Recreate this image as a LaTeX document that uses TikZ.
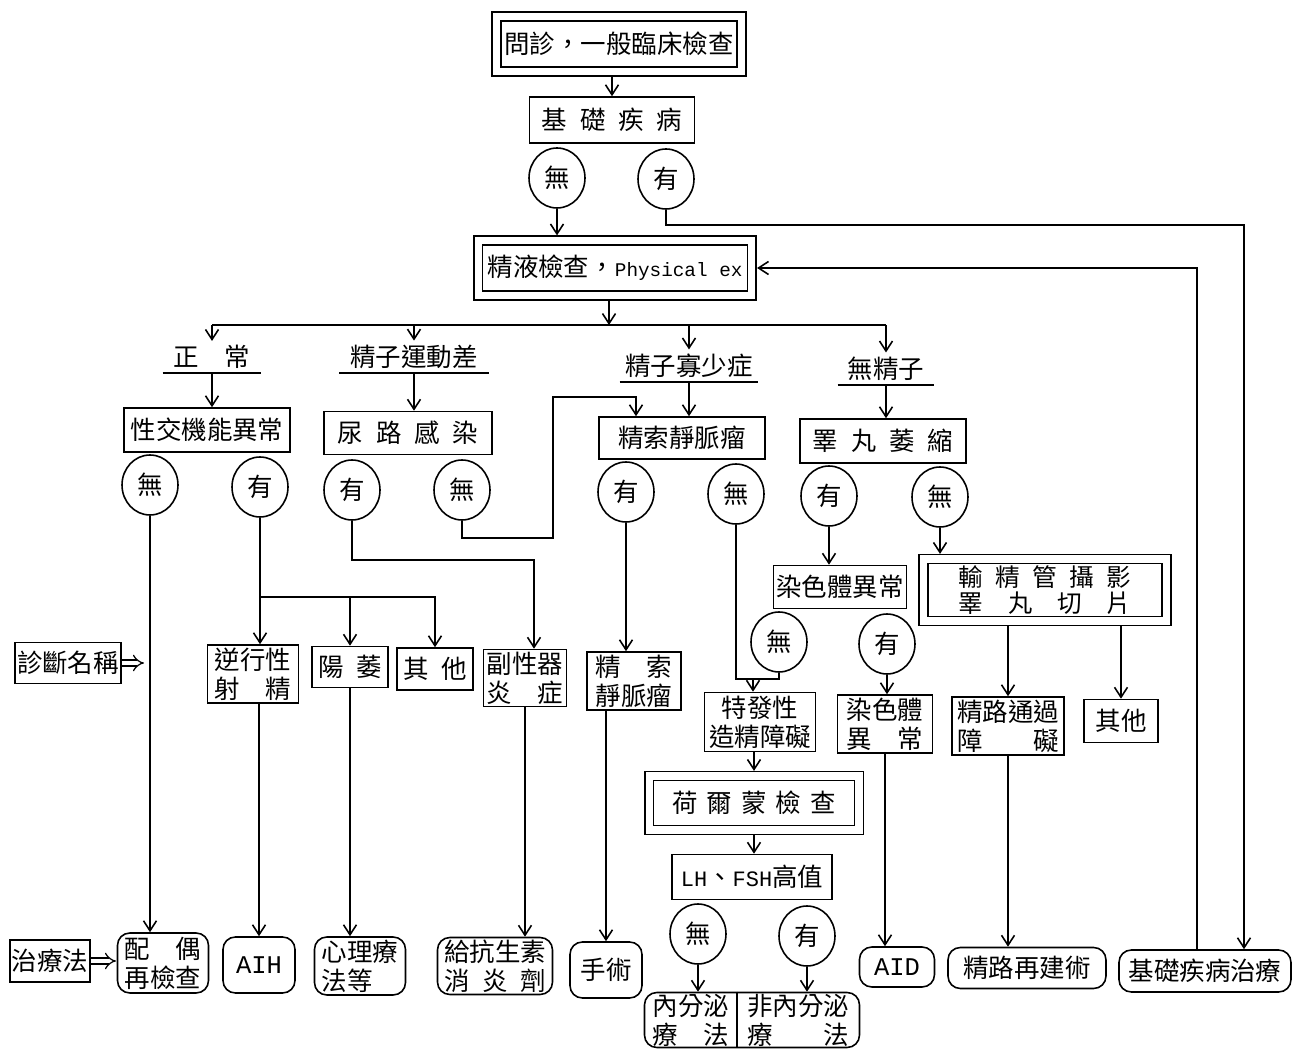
\documentclass[tikz,border=0pt]{standalone}
\usepackage{fontspec}
\setmainfont{Noto Sans CJK TC}
\newfontfamily\latn{Liberation Mono}
\usepackage{tikz}
\usetikzlibrary{arrows.meta,shapes.geometric}
\newcommand{\spreadto}[2]{\makebox[#1][s]{#2}}
\tikzset{
  box/.style={draw, line width=0.9pt, align=center, inner sep=1pt},
  dbox/.style={box, double, double distance=4pt, outer sep=2.9pt},
  rbox/.style={box, rounded corners=7pt},
  yn/.style={ellipse, draw, line width=0.9pt, minimum width=1.12cm, minimum height=1.2cm, inner sep=0pt},
  lbl/.style={anchor=south, inner sep=2pt},
  txt/.style={align=center, inner sep=0pt},
  arr/.style={-{Straight Barb[length=2mm,width=2.6mm]}, line width=0.9pt},
  hollow/.style={double, double distance=2.6pt, line width=0.7pt, -{Implies}},
}

\begin{document}
\begin{tikzpicture}[x=0.02cm, y=-0.02cm, font=\fontsize{14.5}{16.5}\selectfont, line width=0.9pt]
    \useasboundingbox (0,0) rectangle (1292,1050);
    % top of the chart
    \node[dbox, minimum width=4.9cm, minimum height=1.1cm] (ask) at (619,44) {問診，一般臨床檢查};
    \node[box, minimum width=3.3cm, minimum height=0.92cm] (base) at (612,120) {基\enspace 礎\enspace 疾\enspace 病};
    \node[yn] (c0no) at (557,178) {無};
    \node[yn] (c0yes) at (666,179) {有};
    \node[dbox, minimum width=5.48cm, minimum height=1.1cm] (semen) at (615,268) {精液檢查，{\latn\fontsize{11}{14}\selectfont Physical ex}};
    \coordinate (bus) at (609,325);
    \node[lbl, minimum width=1.94cm] (normal) at (212,373) {正\quad 常};
    \node[lbl, minimum width=2.96cm] (motil) at (414,373) {精子運動差};
    \node[lbl, minimum width=2.74cm] (oligo) at (689,382) {精子寡少症};
    \node[lbl, minimum width=1.9cm] (azoo) at (886,385) {無精子};

    % second level
    \node[box, minimum width=3.32cm, minimum height=0.88cm] (sexfn) at (207,430) {性交機能異常};
    \node[box, minimum width=3.36cm, minimum height=0.86cm] (uti) at (408,433) {尿\enspace 路\enspace 感\enspace 染};
    \node[box, minimum width=3.32cm, minimum height=0.84cm] (vari) at (682,438) {精索靜脈瘤};
    \node[box, minimum width=3.32cm, minimum height=0.88cm] (atrophy) at (883,441) {睪\enspace 丸\enspace 萎\enspace 縮};
    \node[yn] (c1no) at (150,485) {無};
    \node[yn] (c1yes) at (260,487) {有};
    \node[yn] (c2yes) at (352,490) {有};
    \node[yn] (c2no) at (462,490) {無};
    \node[yn] (c3yes) at (626,492) {有};
    \node[yn] (c3no) at (736,494) {無};
    \node[yn] (c4yes) at (829,496) {有};
    \node[yn] (c4no) at (940,497) {無};
    \node[box, minimum width=2.66cm, minimum height=0.86cm] (chrom) at (840,587) {染色體異常};
    \node[dbox, minimum width=4.86cm, minimum height=1.24cm, font=\fontsize{14}{15}\selectfont] (vaso) at (1045,590) {輸\enspace 精\enspace 管\enspace 攝\enspace 影\\\spreadto{7em}{睪\hfill 丸\hfill 切\hfill 片}};
    \node[yn] (c5no) at (779,642) {無};
    \node[yn] (c5yes) at (887,644) {有};

    % diagnoses
    \node[box, minimum width=2.12cm, minimum height=0.82cm] (diag) at (68,663) {診斷名稱};
    \coordinate (diagtip) at (144,663);
    \node[box, minimum width=1.82cm, minimum height=1.16cm] (retro) at (253,674) {逆行性\\射\quad 精};
    \node[box, minimum width=1.52cm, minimum height=0.82cm] (impot) at (350,667) {陽\enspace 萎};
    \node[box, minimum width=1.52cm, minimum height=0.84cm] (other1) at (435,669) {其\enspace 他};
    \node[box, minimum width=1.66cm, minimum height=1.14cm] (acc) at (525,678) {副性器\\炎\quad 症};
    \node[box, minimum width=1.88cm, minimum height=1.16cm] (vari2) at (634,681) {精\quad 索\\靜脈瘤};
    \node[box, minimum width=2.22cm, minimum height=1.18cm] (idio) at (760,722) {特發性\\造精障礙};
    \node[box, minimum width=1.9cm, minimum height=1.16cm] (chrom2) at (885,724) {染色體\\異\quad 常};
    \node[box, minimum width=2.24cm, minimum height=1.16cm] (obst) at (1008,726) {精路通過\\障\quad\quad 礙};
    \node[box, minimum width=1.48cm, minimum height=0.86cm] (other2) at (1121,721) {其他};

    \node[dbox, minimum width=4.2cm, minimum height=1.08cm] (hormone) at (754,803) {荷\hspace{0.35em}爾\hspace{0.35em}蒙\hspace{0.35em}檢\hspace{0.35em}查};
    \node[box, minimum width=3.2cm, minimum height=0.9cm] (lhfsh) at (752,877) {{\latn\fontsize{12.5}{15}\selectfont LH}、{\latn\fontsize{12.5}{15}\selectfont FSH}高值};
    \node[yn] (c6no) at (698,934) {無};
    \node[yn] (c6yes) at (807,936) {有};
    \node[rbox, minimum width=4.3cm, minimum height=1.1cm] (split) at (752,1020) {};
    \node[txt] (endo) at (691,1020) {內分泌\\療\quad 法};
    \node[txt] (nonendo) at (798,1020) {非內分泌\\療\quad\quad 法};
    \coordinate (divx) at (737,1020);

    % treatments
    \node[box, minimum width=1.6cm, minimum height=0.84cm] (treat) at (50,961) {治療法};
    \coordinate (treattip) at (116,961);
    \node[rbox, minimum width=1.82cm, minimum height=1.2cm] (spouse) at (163,963) {配\quad 偶\\再檢查};
    \node[rbox, minimum width=1.44cm, minimum height=1.12cm] (aih) at (259,965) {\latn AIH};
    \node[rbox, minimum width=1.82cm, minimum height=1.16cm, align=left] (psy) at (360,966) {心理療\\法等};
    \node[rbox, minimum width=2.3cm, minimum height=1.14cm] (anti) at (495,966) {給抗生素\\\spreadto{4em}{消\hfill 炎\hfill 劑}};
    \node[rbox, minimum width=1.44cm, minimum height=1.12cm] (surg) at (606,970) {手術};
    \node[rbox, minimum width=1.5cm, minimum height=0.8cm] (aid) at (897,967) {\latn AID};
    \node[rbox, minimum width=3.16cm, minimum height=0.82cm] (recon) at (1027,968) {精路再建術};
    \node[rbox, minimum width=3.44cm, minimum height=0.84cm] (basetx) at (1205,971) {基礎疾病治療};

    % connectors
    \draw[arr] (base.north |- ask.south) -- (base.north);
    \draw[arr] (c0no) -- (c0no |- semen.north);
    \coordinate (r1) at (1244,225);
    \draw[arr] (c0yes) |- (r1) -- (r1 |- basetx.north);
    \coordinate (r2) at (1197,268);
    \draw[arr] (r2 |- basetx.north) |- (semen.east);
    \draw[arr] (semen.south -| bus) -- (bus);
    \draw (normal.north |- bus) -- (azoo.north |- bus);
    \foreach \n in {normal,motil,oligo,azoo} {
      \draw[arr] (\n.north |- bus) -- (\n.north);
      \draw (\n.south west) -- (\n.south east);
    }
    \draw[arr] (normal) -- (normal |- sexfn.north);
    \draw[arr] (motil) -- (motil |- uti.north);
    \draw[arr] (oligo) -- (oligo |- vari.north);
    \draw[arr] (azoo) -- (azoo |- atrophy.north);

    \draw[arr] (c1no) -- (c1no |- spouse.north);
    \draw[arr] (c1yes) -- (c1yes |- retro.north);
    \coordinate (j1) at (260,597);
    \draw[arr] (j1) -| (impot.north);
    \draw[arr] (j1) -| (other1.north);
    \coordinate (k2) at (534,560);
    \draw[arr] (c2yes) |- (k2) -- (k2 |- acc.north);
    \coordinate (k3) at (553,538);
    \coordinate (k4) at (636,397);
    \draw[arr] (c2no) |- (k3) |- (k4) -- (k4 |- vari.north);
    \draw[arr] (c3yes) -- (c3yes |- vari2.north);
    \coordinate (k5) at (753,679);
    \draw (c3no) |- (k5);
    \draw (c5no) |- (k5);
    \draw[arr] (k5) -- (k5 |- idio.north);
    \draw[arr] (c4yes) -- (c4yes |- chrom.north);
    \draw[arr] (c4no) -- (c4no |- vaso.north);
    \draw[arr] (c5yes) -- (c5yes |- chrom2.north);
    \draw[arr] (vaso.south -| obst.north) -- (obst.north);
    \draw[arr] (vaso.south -| other2.north) -- (other2.north);

    \draw[arr] (hormone.north |- idio.south) -- (hormone.north);
    \draw[arr] (hormone) -- (hormone |- lhfsh.north);
    \draw[arr] (c6no) -- (c6no |- split.north);
    \draw[arr] (c6yes) -- (c6yes |- split.north);
    \draw (split.north -| divx) -- (split.south -| divx);

    \draw[arr] (aih.north |- retro.south) -- (aih.north);
    \draw[arr] (impot) -- (impot |- psy.north);
    \draw[arr] (acc) -- (acc |- anti.north);
    \draw[arr] (surg.north |- vari2.south) -- (surg.north);
    \draw[arr] (chrom2) -- (chrom2 |- aid.north);
    \draw[arr] (obst) -- (obst |- recon.north);
    \draw[hollow] (diag) -- (diagtip);
    \draw[hollow] (treat) -- (treattip);
\end{tikzpicture}
\end{document}
